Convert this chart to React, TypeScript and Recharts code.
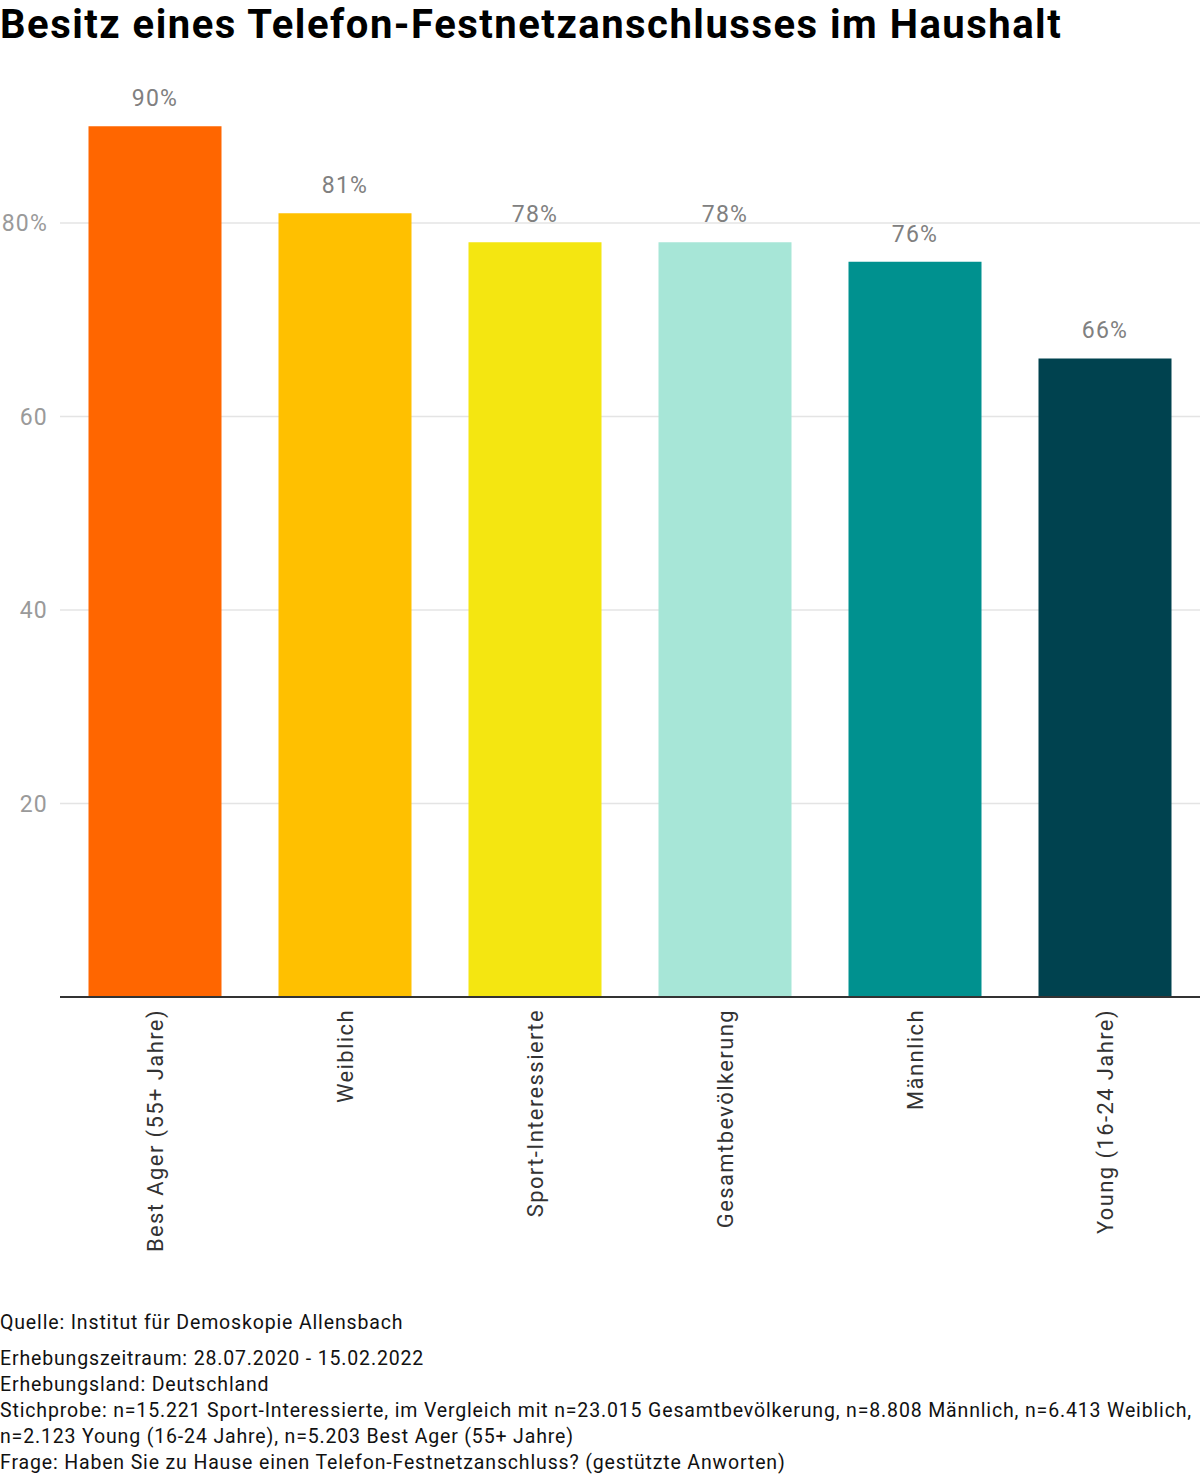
import React from "react"
import { BarChart, Bar, XAxis, YAxis, CartesianGrid, Cell, LabelList } from "recharts"

const categories = [
    "Best Ager (55+ Jahre)",
    "Weiblich",
    "Sport-Interessierte",
    "Gesamtbevölkerung",
    "Männlich",
    "Young (16-24 Jahre)",
]
const values = [90, 81, 78, 78, 76, 66]
const barColors = ["#FF6600", "#FFC000", "#F4E611", "#A7E6D7", "#00918F", "#00424F"]
const yTicks = [20, 40, 60, 80]

const footerLines = [
    "Erhebungszeitraum: 28.07.2020 - 15.02.2022",
    "Erhebungsland: Deutschland",
    "Stichprobe: n=15.221 Sport-Interessierte, im Vergleich mit n=23.015 Gesamtbevölkerung, n=8.808 Männlich, n=6.413 Weiblich,",
    "n=2.123 Young (16-24 Jahre), n=5.203 Best Ager (55+ Jahre)",
    "Frage: Haben Sie zu Hause einen Telefon-Festnetzanschluss? (gestützte Anworten)",
]

const FONT = "Roboto, 'DejaVu Sans', sans-serif"

const data = categories.map((name, i) => ({ name, value: values[i] }))

// rotated category label, reads bottom-to-top, ends just under the axis
function VerticalTick(props: any) {
    const { x, y, payload } = props
    return (
        <text
            x={x}
            y={y}
            transform={`rotate(-90, ${x}, ${y})`}
            textAnchor="end"
            dominantBaseline="central"
            fill="#333"
            fontSize={22}
            letterSpacing={1.4}
            fontFamily={FONT}
        >
            {payload.value}
        </text>
    )
}

export default function App() {
    return (
        <div
            style={{
                position: "absolute",
                top: 0,
                left: 0,
                width: 1200,
                height: 1478,
                background: "#fff",
                fontFamily: FONT,
                overflow: "hidden",
            }}
        >
            <div
                style={{
                    position: "absolute",
                    top: 1,
                    left: 0,
                    fontSize: 40,
                    fontWeight: 700,
                    letterSpacing: 1.5,
                    lineHeight: "48px",
                    color: "#000",
                    whiteSpace: "nowrap",
                }}
            >
                Besitz eines Telefon-Festnetzanschlusses im Haushalt
            </div>

            <div style={{ position: "absolute", top: 0, left: 0 }}>
                <BarChart
                    width={1200}
                    height={1270}
                    data={data}
                    margin={{ top: 29.5, right: 0, bottom: 0, left: 0 }}
                    barCategoryGap="15%"
                >
                    <CartesianGrid
                        vertical={false}
                        horizontalValues={yTicks}
                        stroke="#e4e4e4"
                        strokeWidth={1.5}
                    />
                    <YAxis
                        domain={[0, 100]}
                        ticks={yTicks}
                        width={60}
                        axisLine={false}
                        tickLine={false}
                        tickSize={0}
                        tickMargin={12}
                        tickFormatter={(v: number) => (v === 80 ? "80%" : String(v))}
                        tick={{ fill: "#9a9a9a", fontSize: 23, letterSpacing: 1.2, fontFamily: FONT }}
                    />
                    <XAxis
                        dataKey="name"
                        interval={0}
                        height={273}
                        axisLine={{ stroke: "#333", strokeWidth: 2 }}
                        tickLine={false}
                        tickSize={0}
                        tickMargin={12}
                        tick={<VerticalTick />}
                    />
                    <Bar dataKey="value" isAnimationActive={false}>
                        {data.map((d, i) => (
                            <Cell key={d.name} fill={barColors[i]} />
                        ))}
                        <LabelList
                            dataKey="value"
                            position="top"
                            offset={20}
                            formatter={(v: number) => `${v}%`}
                            fill="#808080"
                            fontSize={23}
                            letterSpacing={1.2}
                            fontFamily={FONT}
                        />
                    </Bar>
                </BarChart>
            </div>

            <div
                style={{
                    position: "absolute",
                    left: 0,
                    top: 1310,
                    fontSize: 19.5,
                    letterSpacing: 0.85,
                    lineHeight: "26px",
                    color: "#111",
                    whiteSpace: "nowrap",
                }}
            >
                <div style={{ marginBottom: 10 }}>Quelle: Institut für Demoskopie Allensbach</div>
                {footerLines.map((line) => (
                    <div key={line}>{line}</div>
                ))}
            </div>
        </div>
    )
}
